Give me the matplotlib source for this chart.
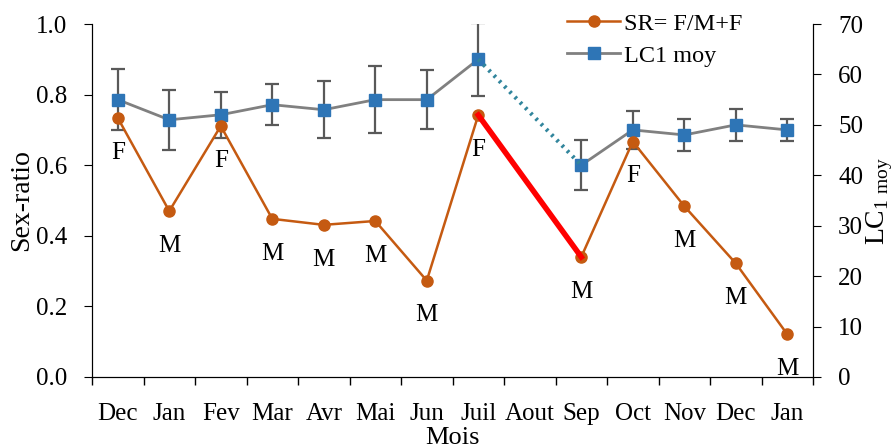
import numpy as np
import matplotlib.pyplot as plt

plt.rcParams['font.family'] = ['Liberation Serif', 'DejaVu Serif']
plt.rcParams['mathtext.fontset'] = 'custom'
plt.rcParams['mathtext.rm'] = 'Liberation Serif'
plt.rcParams['font.size'] = 18

# mois (Dec -> Jan de l'annee suivante), pas de donnees en Aout
mois = ['Dec', 'Jan', 'Fev', 'Mar', 'Avr', 'Mai', 'Jun', 'Juil', 'Aout',
        'Sep', 'Oct', 'Nov', 'Dec', 'Jan']
sr = [0.734, 0.47, 0.711, 0.448, 0.431, 0.442, 0.273, 0.742, np.nan,
      0.34, 0.667, 0.484, 0.322, 0.121]
sexe = ['F', 'M', 'F', 'M', 'M', 'M', 'M', 'F', '', 'M', 'F', 'M', 'M', 'M']
lc1 = [55, 51, 52, 54, 53, 55, 55, 63, np.nan, 42, 49, 48, 50, 49]
lc1_err = [6.1, 6.0, 4.6, 4.1, 5.6, 6.7, 5.8, 7.2, np.nan,
           5.0, 3.7, 3.2, 3.2, 2.2]

x = np.arange(len(mois))
sr = np.array(sr)
lc1 = np.array(lc1)

orange = '#C55A11'
bleu = '#2E75B6'

fig = plt.figure(figsize=(8.96, 4.48), dpi=100)
ax = fig.add_axes([0.1027, 0.1585, 0.8047, 0.7879])
ax2 = ax.twinx()

# sex-ratio (axe gauche)
l1, = ax.plot(x, sr, color=orange, lw=1.8, marker='o', ms=8, zorder=3)
ax.plot([7, 9], [sr[7], sr[9]], color='#FF0000', lw=4, zorder=4)
for xi, yi, s in zip(x, sr, sexe):
    if s:
        ax.annotate(s, (xi, yi), xytext=(0, -25), textcoords='offset points',
                    ha='center', va='center', fontsize=18)

# LC1 moyenne (axe droit)
ax2.errorbar(x, lc1, yerr=lc1_err, fmt='none', ecolor='#595959', elinewidth=1.6,
             capsize=5, capthick=1.6, zorder=2)
l2, = ax2.plot(x, lc1, color='#808080', lw=2, marker='s', ms=8,
               mfc=bleu, mec=bleu, zorder=3)
ax2.plot([7, 9], [lc1[7], lc1[9]], color='#31859C', lw=3, ls=(0, (0.6, 1.2)),
         zorder=3)

ax.set_xlim(-0.5, 13.5)
ax.set_ylim(0, 1.0)
ax2.set_ylim(0, 70)
ax.set_zorder(ax2.get_zorder() + 1)
ax.patch.set_visible(False)

ax.set_xticks(np.arange(-0.5, 14, 1))
ax.set_xticklabels([])
ax.set_xticks(x, minor=True)
ax.set_xticklabels(mois, minor=True)
ax.tick_params(axis='x', which='major', length=6, direction='out', width=1)
ax.tick_params(axis='x', which='minor', length=0, pad=19, labelsize=18)
ax.set_yticks(np.arange(0, 1.01, 0.2))
ax.set_yticklabels([f'{v:.1f}' for v in np.arange(0, 1.01, 0.2)])
ax.tick_params(axis='y', length=6, direction='out', labelsize=18, pad=12)
ax2.set_yticks(np.arange(0, 71, 10))
ax2.tick_params(axis='y', length=6, direction='out', labelsize=18, pad=12)

for a in (ax, ax2):
    a.spines['top'].set_visible(False)
ax.set_xlabel('Mois', fontsize=19, labelpad=1)
ax.set_ylabel('Sex-ratio', fontsize=20, labelpad=1)
ax2.set_ylabel(r'LC$_{\mathregular{1\ moy}}$', fontsize=20, labelpad=1)

ax.legend([l1, l2], ['SR= F/M+F', 'LC1 moy'], loc='upper left',
          bbox_to_anchor=(0.645, 1.06), frameon=False, fontsize=17.5,
          handlelength=2.2, handletextpad=0.15, labelspacing=0.42,
          borderaxespad=0)

fig.savefig('out.png', dpi=100)
